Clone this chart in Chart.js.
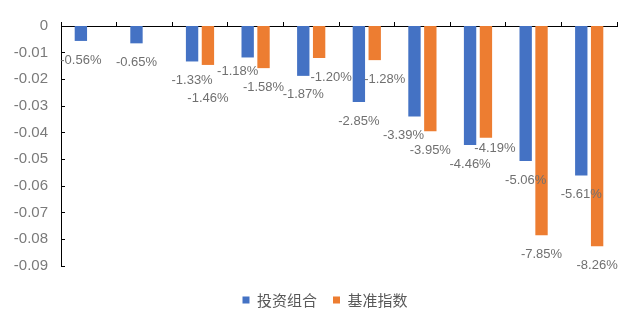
<!DOCTYPE html>
<html>
<head>
<meta charset="utf-8">
<title>投资组合与基准指数</title>
<script src="https://cdn.jsdelivr.net/npm/chart.js@4/dist/chart.umd.min.js"></script>
<style>
  html, body { margin: 0; padding: 0; background: #fff; }
  #wrap { width: 640px; height: 333px; }
</style>
</head>
<body>
<div id="wrap"><canvas id="myChart"></canvas></div>
<script>
// periods along the category axis (not labelled on the chart)
var categories = ['1', '2', '3', '4', '5', '6', '7', '8', '9', '10'];
var seriesNames = ['投资组合', '基准指数'];
var portfolio = [-0.0056, -0.0065, -0.0133, -0.0118, -0.0187, -0.0285, -0.0339, -0.0446, -0.0506, -0.0561];
var benchmark = [null, null, -0.0146, -0.0158, -0.0120, -0.0128, -0.0395, -0.0419, -0.0785, -0.0826];
var yTicks = [0, -0.01, -0.02, -0.03, -0.04, -0.05, -0.06, -0.07, -0.08, -0.09];

// hand nudges for labels that would otherwise collide: "dataset-index": [dx, dy]
var labelNudge = {
    '0-3': [-10, -5],
    '0-6': [-11, 0],
    '1-2': [0, 14],
    '1-4': [12, 0],
    '1-5': [10, 0],
    '1-7': [9, -8]
};

var valueLabels = {
    id: 'valueLabels',
    afterDatasetsDraw: function (chart) {
        var ctx = chart.ctx;
        ctx.save();
        ctx.font = '13px "Liberation Sans", Arial, sans-serif';
        ctx.fillStyle = '#707070';
        ctx.textAlign = 'center';
        ctx.textBaseline = 'middle';
        chart.data.datasets.forEach(function (ds, i) {
            chart.getDatasetMeta(i).data.forEach(function (bar, j) {
                var v = ds.data[j];
                if (v === null || v === undefined) return;
                var n = labelNudge[i + '-' + j] || [0, 0];
                ctx.fillText((v * 100).toFixed(2) + '%', bar.x + n[0], bar.y + 19 + n[1]);
            });
        });
        ctx.restore();
    }
};

window.onload = function () {
    var ctx = document.getElementById('myChart').getContext('2d');
    Chart.defaults.font.family = '"Liberation Sans", Arial, sans-serif';
    var config = {
        type: 'bar',
        data: {
            labels: categories,
            datasets: [{
                label: seriesNames[0],
                data: portfolio,
                backgroundColor: '#4472C4',
                borderWidth: 0
            }, {
                label: seriesNames[1],
                data: benchmark,
                backgroundColor: '#ED7D31',
                borderWidth: 0
            }]
        },
        options: {
            responsive: true,
            maintainAspectRatio: false,
            animation: false,
            datasets: {
                bar: {
                    categoryPercentage: 0.57,
                    barPercentage: 0.78
                }
            },
            layout: {
                padding: { top: 18, right: 0, bottom: 15.5, left: 10 }
            },
            scales: {
                x: {
                    position: 'top',
                    grid: {
                        offset: true,
                        drawOnChartArea: false,
                        tickLength: 4,
                        color: '#000'
                    },
                    border: { color: '#000', width: 1 },
                    ticks: { display: false }
                },
                // empty strip between the plot and the legend
                gap: {
                    type: 'category',
                    position: 'bottom',
                    grid: { display: false },
                    border: { display: false },
                    ticks: { display: false },
                    afterFit: function (s) { s.height = 10.5; }
                },
                // empty margin on the right of the plot
                side: {
                    type: 'linear',
                    position: 'right',
                    grid: { display: false },
                    border: { display: false },
                    ticks: { display: false },
                    afterFit: function (s) { s.width = 23; }
                },
                y: {
                    min: Math.min.apply(null, yTicks),
                    max: Math.max.apply(null, yTicks),
                    afterBuildTicks: function (s) {
                        s.ticks = yTicks.map(function (v) { return { value: v }; });
                    },
                    afterFit: function (s) { s.width = 51; },
                    grid: {
                        drawOnChartArea: false,
                        tickLength: -4,
                        color: '#000'
                    },
                    border: { color: '#000', width: 1 },
                    ticks: {
                        padding: 17,
                        color: '#7a7a7a',
                        font: { size: 15 },
                        callback: function (v) {
                            var r = Math.round(v * 100) / 100;
                            return r === 0 ? '0' : r.toFixed(2);
                        }
                    }
                }
            },
            plugins: {
                legend: {
                    position: 'bottom',
                    labels: {
                        boxWidth: 7,
                        boxHeight: 7,
                        padding: 16,
                        color: '#595959',
                        font: { size: 15, family: '"Noto Sans CJK SC", sans-serif' }
                    }
                },
                tooltip: { enabled: false }
            }
        },
        plugins: [valueLabels]
    };
    window.myBar = new Chart(ctx, config);
};
</script>
</body>
</html>
